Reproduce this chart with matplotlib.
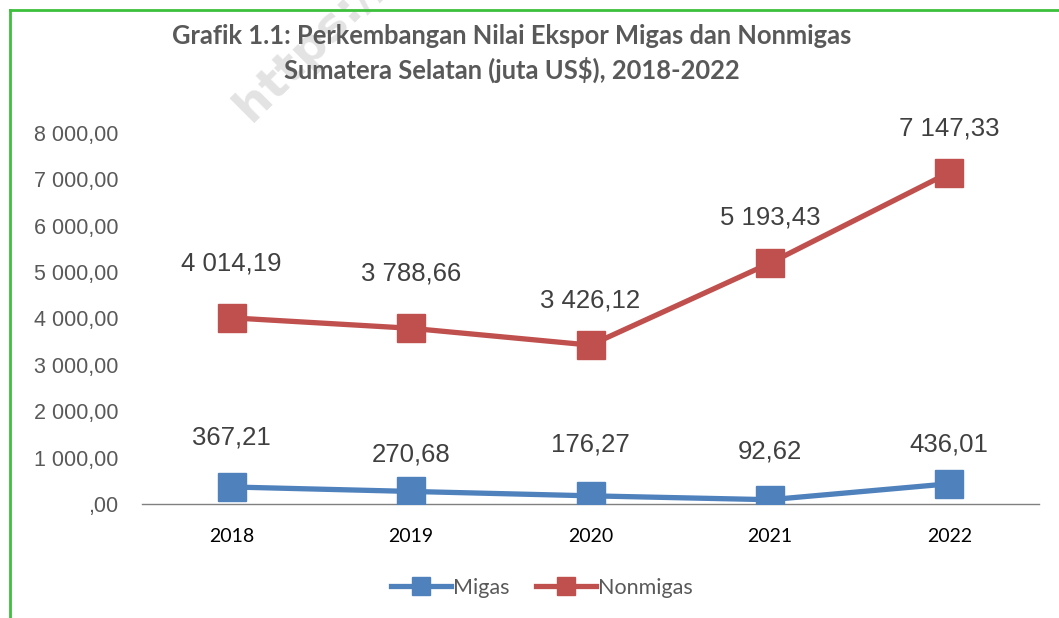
import matplotlib.pyplot as plt
from matplotlib.lines import Line2D

# Data
years = ["2018", "2019", "2020", "2021", "2022"]
migas = [367.21, 270.68, 176.27, 92.62, 436.01]
nonmigas = [4014.19, 3788.66, 3426.12, 5193.43, 7147.33]
yticks = [0, 1000, 2000, 3000, 4000, 5000, 6000, 7000, 8000]

# label offsets above each point (pixels), as placed in the original
migas_off = [49, 37, 51, 48, 39]
nonmigas_off = [54, 55, 45, 46, 44]

blue = '#4F81BD'
red = '#C0504D'
sans = ['Liberation Sans', 'DejaVu Sans']


def fmt_id(v):
    # Indonesian style: space as thousands separator, comma as decimal
    s = f"{v:,.2f}".replace(",", " ").replace(".", ",")
    if s.startswith("0,"):
        s = s[1:]
    return s


W, H = 1059, 618
fig = plt.figure(figsize=(W / 100, H / 100), dpi=100)
fig.patch.set_facecolor('white')

ax = fig.add_axes([142 / W, 1 - 504 / H, (1039 - 142) / W, (504 - 133) / H])
x = list(range(len(years)))

ax.plot(x, migas, color=blue, lw=3.8, marker='s', markersize=20, zorder=3)
ax.plot(x, nonmigas, color=red, lw=3.8, marker='s', markersize=20, zorder=3)

for xi, v, off in zip(x, migas, migas_off):
    ax.annotate(fmt_id(v), (xi, v), xytext=(0, off * 0.72),
                textcoords='offset points', ha='center', va='center',
                fontsize=18.5, color='#404040', family=sans)
for xi, v, off in zip(x, nonmigas, nonmigas_off):
    ax.annotate(fmt_id(v), (xi, v), xytext=(0, off * 0.72),
                textcoords='offset points', ha='center', va='center',
                fontsize=18.5, color='#404040', family=sans)

ax.set_xlim(-0.5, len(years) - 0.5)
ax.set_ylim(0, 8000)
ax.set_yticks(yticks)
ax.set_yticklabels([fmt_id(v) for v in yticks], family=sans, fontsize=15.5,
                   color='#595959')
ax.set_xticks(x)
ax.set_xticklabels(years, family='Lato', fontsize=14, color='black')
ax.tick_params(axis='y', length=0, pad=17)
ax.tick_params(axis='x', length=0, pad=17)
for s in ['top', 'right', 'left']:
    ax.spines[s].set_visible(False)
ax.spines['bottom'].set_color('#808080')
ax.spines['bottom'].set_linewidth(1)

# Title
fig.text(512 / W, 1 - 36 / H,
         "Grafik 1.1: Perkembangan Nilai Ekspor Migas dan Nonmigas",
         ha='center', va='center', fontsize=18.4, fontweight='bold',
         color='#595959', family='Lato')
fig.text(512 / W, 1 - 70 / H,
         "Sumatera Selatan (juta US$), 2018-2022",
         ha='center', va='center', fontsize=18.4, fontweight='bold',
         color='#595959', family='Lato')

# faint watermark behind the plot area
fig.text(226 / W, 1 - 130 / H, "https://", rotation=45, fontsize=34,
         fontweight='bold', color='#e3e3e3', ha='left', va='bottom',
         family='DejaVu Sans', zorder=-1)

# green frame (left and top)
fig.add_artist(Line2D([10 / W, 10 / W], [0, 1 - 10 / H], color='#3CC13C', lw=2))
fig.add_artist(Line2D([10 / W, 1], [1 - 10 / H, 1 - 10 / H], color='#3CC13C', lw=2))

# Legend
handles = [Line2D([], [], color=blue, lw=3.8, marker='s', markersize=13),
           Line2D([], [], color=red, lw=3.8, marker='s', markersize=13)]
leg = fig.legend(handles, ["Migas", "Nonmigas"], loc='center',
                 bbox_to_anchor=(542 / W, 1 - 588 / H), ncol=2, frameon=False,
                 handlelength=2.8, handletextpad=0.1, columnspacing=1.2,
                 prop={'family': 'Lato', 'size': 15.5})
for t in leg.get_texts():
    t.set_color('#595959')

fig.savefig('out.png', dpi=100, facecolor='white')
